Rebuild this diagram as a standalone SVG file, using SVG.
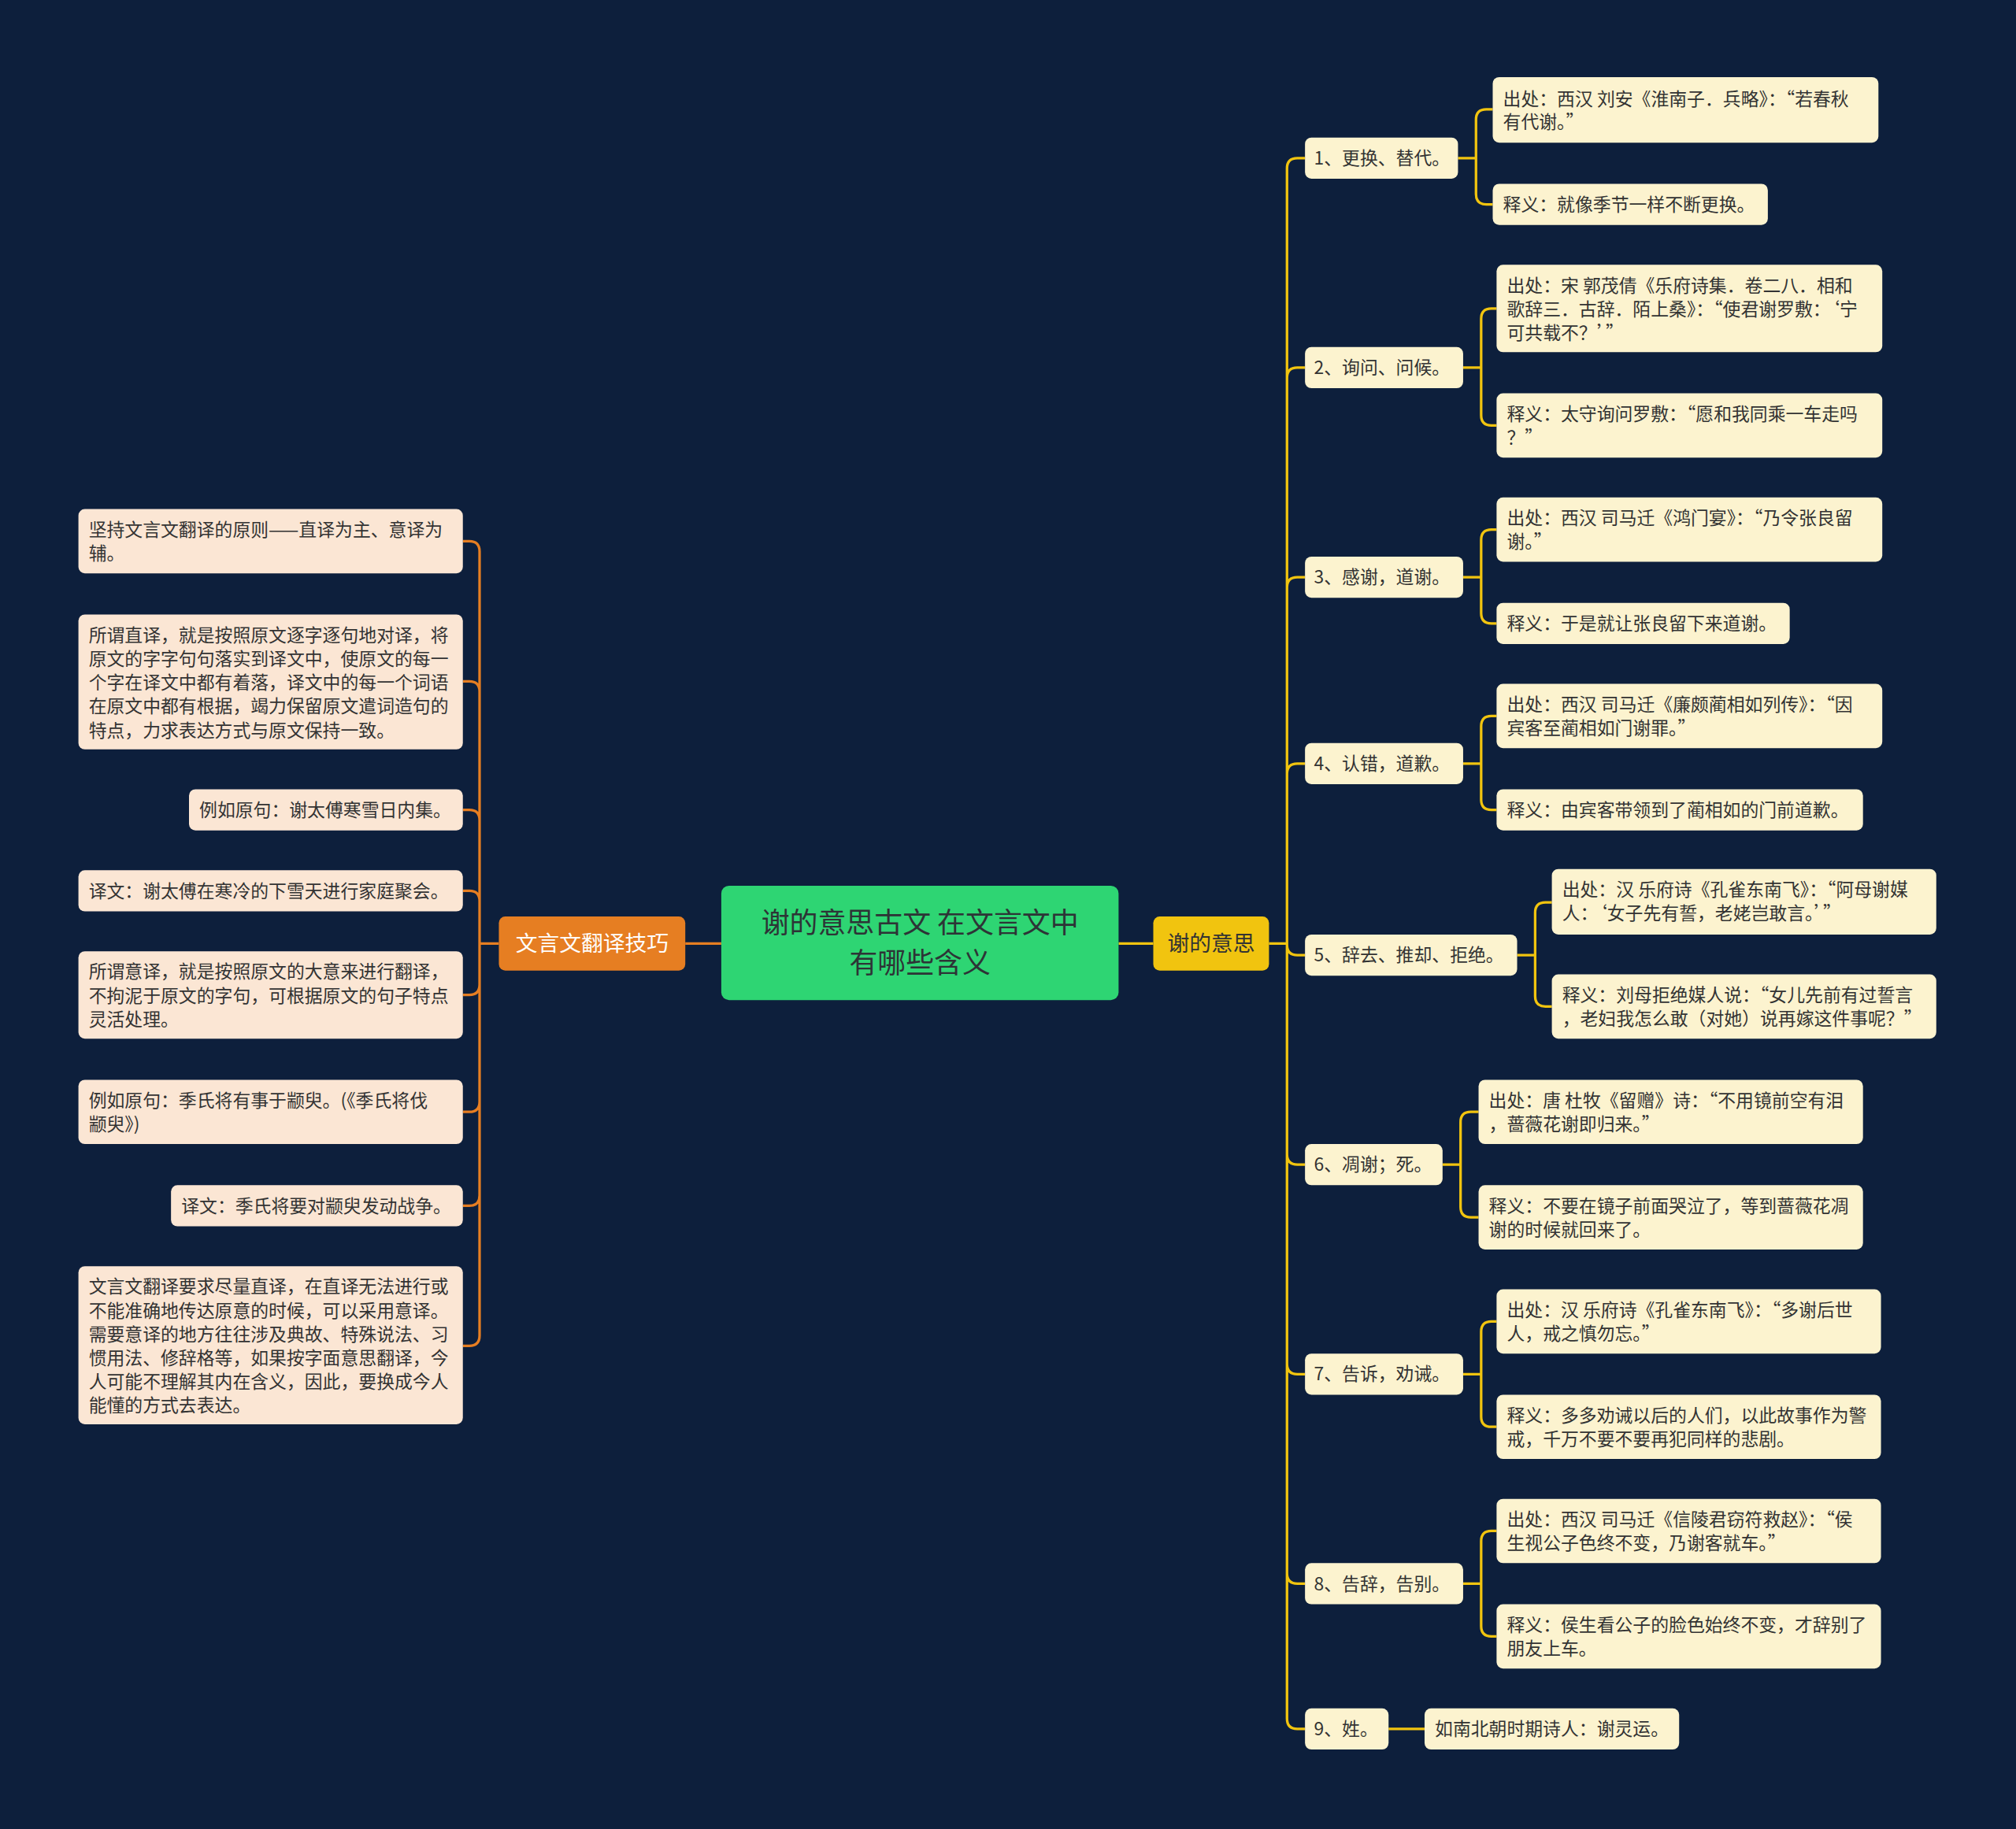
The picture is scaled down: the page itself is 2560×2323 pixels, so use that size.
<svg xmlns="http://www.w3.org/2000/svg" width="2560" height="2323" viewBox="0 0 2560 2323">
<style>
text{font-family:"Noto Sans CJK SC","Noto Sans",sans-serif;}
.y{fill:#fcf3cf}
.p{fill:#fbe6d4}
.t{font-size:14px;fill:#333}
.c{fill:none;stroke-width:2}
.cy{stroke:#f1c40f}
.co{stroke:#e67e22}
</style>
<rect width="2560" height="2323" fill="#0d1f3c"/>
<g transform="scale(1.63265)">
<g id="connectors">
<path class="c cy" d="M987 734H1001"/>
<path class="c cy" d="M1001 734V131Q1001 123 1009 123H1015M1001 734V294Q1001 286 1009 286H1015M1001 734V457Q1001 449 1009 449H1015M1001 734V602Q1001 594 1009 594H1015M1001 734V735Q1001 743 1009 743H1015M1001 734V898Q1001 906 1009 906H1015M1001 734V1061Q1001 1069 1009 1069H1015M1001 734V1224Q1001 1232 1009 1232H1015M1001 734V1337Q1001 1345 1009 1345H1015"/>
<path class="c cy" d="M1134 123H1148M1148 123V93Q1148 85 1156 85H1161M1148 123V151Q1148 159 1156 159H1161"/>
<path class="c cy" d="M1138 286H1152M1152 286V248Q1152 240 1160 240H1164M1152 286V323Q1152 331 1160 331H1164"/>
<path class="c cy" d="M1138 449H1152M1152 449V420Q1152 412 1160 412H1164M1152 449V477Q1152 485 1160 485H1164"/>
<path class="c cy" d="M1138 594H1152M1152 594V565Q1152 557 1160 557H1164M1152 594V622Q1152 630 1160 630H1164"/>
<path class="c cy" d="M1180 743H1194M1194 743V710Q1194 702 1202 702H1207M1194 743V775Q1194 783 1202 783H1207"/>
<path class="c cy" d="M1122 906H1136M1136 906V873Q1136 865 1144 865H1150M1136 906V939Q1136 947 1144 947H1150"/>
<path class="c cy" d="M1138 1069H1152M1152 1069V1036Q1152 1028 1160 1028H1164M1152 1069V1102Q1152 1110 1160 1110H1164"/>
<path class="c cy" d="M1138 1232H1152M1152 1232V1199Q1152 1191 1160 1191H1164M1152 1232V1265Q1152 1273 1160 1273H1164"/>
<path class="c cy" d="M1080 1345H1108"/>
<path class="c cy" d="M870 734H897"/>
<path class="c co" d="M533 734H561"/>
<path class="c co" d="M388 734H373M373 734V429Q373 421 365 421H360M373 734V538Q373 530 365 530H360M373 734V638Q373 630 365 630H360M373 734V701Q373 693 365 693H360M373 734V766Q373 774 365 774H360M373 734V857Q373 865 365 865H360M373 734V930Q373 938 365 938H360M373 734V1039Q373 1047 365 1047H360"/>
</g>
<g id="center"><rect x="561" y="689" width="309" height="89" rx="6" fill="#2ed573"/>
<text x="715.5" y="726" text-anchor="middle" font-size="22" fill="#2d3436">谢的意思古文 在文言文中</text>
<text x="715.5" y="757" text-anchor="middle" font-size="22" fill="#2d3436">有哪些含义</text></g>
<g id="left-main"><rect x="388" y="713" width="145" height="42" rx="5" fill="#e67e22"/>
<text x="460.5" y="740" text-anchor="middle" font-size="17" fill="#fff">文言文翻译技巧</text></g>
<g id="right-main"><rect x="897" y="713" width="90" height="42" rx="5" fill="#f1c40f"/>
<text x="942" y="740" text-anchor="middle" font-size="17" fill="#333">谢的意思</text></g>

<g id="n1"><rect class="y" x="1015" y="107" width="119" height="32" rx="5"/><text class="t" x="1022" y="128">1、更换、替代。</text></g>
<g id="n2"><rect class="y" x="1015" y="270" width="123" height="32" rx="5"/><text class="t" x="1022" y="291">2、询问、问候。</text></g>
<g id="n3"><rect class="y" x="1015" y="433" width="123" height="32" rx="5"/><text class="t" x="1022" y="454">3、感谢，道谢。</text></g>
<g id="n4"><rect class="y" x="1015" y="578" width="123" height="32" rx="5"/><text class="t" x="1022" y="599">4、认错，道歉。</text></g>
<g id="n5"><rect class="y" x="1015" y="727" width="165" height="32" rx="5"/><text class="t" x="1022" y="748">5、辞去、推却、拒绝。</text></g>
<g id="n6"><rect class="y" x="1015" y="890" width="107" height="32" rx="5"/><text class="t" x="1022" y="911">6、凋谢；死。</text></g>
<g id="n7"><rect class="y" x="1015" y="1053" width="123" height="32" rx="5"/><text class="t" x="1022" y="1074">7、告诉，劝诫。</text></g>
<g id="n8"><rect class="y" x="1015" y="1216" width="123" height="32" rx="5"/><text class="t" x="1022" y="1237">8、告辞，告别。</text></g>
<g id="n9"><rect class="y" x="1015" y="1329" width="65" height="32" rx="5"/><text class="t" x="1022" y="1350">9、姓。</text></g>

<g id="n1a"><rect class="y" x="1161" y="60" width="300" height="51" rx="5"/><text class="t" x="1169" y="82">出处：西汉 刘安《淮南子．兵略》：“若春秋</text><text class="t" x="1169" y="100">有代谢。”</text></g>
<g id="n1b"><rect class="y" x="1161" y="143" width="214" height="32" rx="5"/><text class="t" x="1169" y="164">释义：就像季节一样不断更换。</text></g>
<g id="n2a"><rect class="y" x="1164" y="206" width="300" height="68" rx="5"/><text class="t" x="1172" y="227">出处：宋 郭茂倩《乐府诗集．卷二八．相和</text><text class="t" x="1172" y="245.5">歌辞三．古辞．陌上桑》：“使君谢罗敷：‘宁</text><text class="t" x="1172" y="264">可共载不？’”</text></g>
<g id="n2b"><rect class="y" x="1164" y="306" width="300" height="50" rx="5"/><text class="t" x="1172" y="327">释义：太守询问罗敷：“愿和我同乘一车走吗</text><text class="t" x="1172" y="345.5">？”</text></g>
<g id="n3a"><rect class="y" x="1164" y="387" width="300" height="50" rx="5"/><text class="t" x="1172" y="408">出处：西汉 司马迁《鸿门宴》：“乃令张良留</text><text class="t" x="1172" y="426.5">谢。”</text></g>
<g id="n3b"><rect class="y" x="1164" y="469" width="228" height="32" rx="5"/><text class="t" x="1172" y="490">释义：于是就让张良留下来道谢。</text></g>
<g id="n4a"><rect class="y" x="1164" y="532" width="300" height="50" rx="5"/><text class="t" x="1172" y="553">出处：西汉 司马迁《廉颇蔺相如列传》：“因</text><text class="t" x="1172" y="571.5">宾客至蔺相如门谢罪。”</text></g>
<g id="n4b"><rect class="y" x="1164" y="614" width="285" height="32" rx="5"/><text class="t" x="1172" y="635">释义：由宾客带领到了蔺相如的门前道歉。</text></g>
<g id="n5a"><rect class="y" x="1207" y="676" width="299" height="51" rx="5"/><text class="t" x="1215" y="697">出处：汉 乐府诗《孔雀东南飞》：“阿母谢媒</text><text class="t" x="1215" y="715.5">人：‘女子先有誓，老姥岂敢言。’”</text></g>
<g id="n5b"><rect class="y" x="1207" y="758" width="299" height="50" rx="5"/><text class="t" x="1215" y="779">释义：刘母拒绝媒人说：“女儿先前有过誓言</text><text class="t" x="1215" y="797.5">，老妇我怎么敢（对她）说再嫁这件事呢？”</text></g>
<g id="n6a"><rect class="y" x="1150" y="840" width="299" height="50" rx="5"/><text class="t" x="1158" y="861">出处：唐 杜牧《留赠》诗：“不用镜前空有泪</text><text class="t" x="1158" y="879.5">，蔷薇花谢即归来。”</text></g>
<g id="n6b"><rect class="y" x="1150" y="922" width="299" height="50" rx="5"/><text class="t" x="1158" y="943">释义：不要在镜子前面哭泣了，等到蔷薇花凋</text><text class="t" x="1158" y="961.5">谢的时候就回来了。</text></g>
<g id="n7a"><rect class="y" x="1164" y="1003" width="299" height="50" rx="5"/><text class="t" x="1172" y="1024">出处：汉 乐府诗《孔雀东南飞》：“多谢后世</text><text class="t" x="1172" y="1042.5">人，戒之慎勿忘。”</text></g>
<g id="n7b"><rect class="y" x="1164" y="1085" width="299" height="50" rx="5"/><text class="t" x="1172" y="1106">释义：多多劝诫以后的人们，以此故事作为警</text><text class="t" x="1172" y="1124.5">戒，千万不要不要再犯同样的悲剧。</text></g>
<g id="n8a"><rect class="y" x="1164" y="1166" width="299" height="50" rx="5"/><text class="t" x="1172" y="1187">出处：西汉 司马迁《信陵君窃符救赵》：“侯</text><text class="t" x="1172" y="1205.5">生视公子色终不变，乃谢客就车。”</text></g>
<g id="n8b"><rect class="y" x="1164" y="1248" width="299" height="50" rx="5"/><text class="t" x="1172" y="1269">释义：侯生看公子的脸色始终不变，才辞别了</text><text class="t" x="1172" y="1287.5">朋友上车。</text></g>
<g id="n9a"><rect class="y" x="1108" y="1329" width="198" height="32" rx="5"/><text class="t" x="1116" y="1350">如南北朝时期诗人：谢灵运。</text></g>

<g id="l1"><rect class="p" x="61" y="396" width="299" height="50" rx="5"/><text class="t" x="69" y="417">坚持文言文翻译的原则——直译为主、意译为</text><text class="t" x="69" y="435.5">辅。</text></g>
<g id="l2"><rect class="p" x="61" y="478" width="299" height="105" rx="5"/><text class="t" x="69" y="499">所谓直译，就是按照原文逐字逐句地对译，将</text><text class="t" x="69" y="517.5">原文的字字句句落实到译文中，使原文的每一</text><text class="t" x="69" y="536">个字在译文中都有着落，译文中的每一个词语</text><text class="t" x="69" y="554.5">在原文中都有根据，竭力保留原文遣词造句的</text><text class="t" x="69" y="573">特点，力求表达方式与原文保持一致。</text></g>
<g id="l3"><rect class="p" x="147" y="614" width="213" height="32" rx="5"/><text class="t" x="155" y="635">例如原句：谢太傅寒雪日内集。</text></g>
<g id="l4"><rect class="p" x="61" y="677" width="299" height="32" rx="5"/><text class="t" x="69" y="698">译文：谢太傅在寒冷的下雪天进行家庭聚会。</text></g>
<g id="l5"><rect class="p" x="61" y="740" width="299" height="68" rx="5"/><text class="t" x="69" y="761">所谓意译，就是按照原文的大意来进行翻译，</text><text class="t" x="69" y="779.5">不拘泥于原文的字句，可根据原文的句子特点</text><text class="t" x="69" y="798">灵活处理。</text></g>
<g id="l6"><rect class="p" x="61" y="840" width="299" height="50" rx="5"/><text class="t" x="69" y="861">例如原句：季氏将有事于颛臾。(《季氏将伐</text><text class="t" x="69" y="879.5">颛臾》)</text></g>
<g id="l7"><rect class="p" x="133" y="922" width="227" height="32" rx="5"/><text class="t" x="141" y="943">译文：季氏将要对颛臾发动战争。</text></g>
<g id="l8"><rect class="p" x="61" y="985" width="299" height="123" rx="5"/><text class="t" x="69" y="1006">文言文翻译要求尽量直译，在直译无法进行或</text><text class="t" x="69" y="1024.5">不能准确地传达原意的时候，可以采用意译。</text><text class="t" x="69" y="1043">需要意译的地方往往涉及典故、特殊说法、习</text><text class="t" x="69" y="1061.5">惯用法、修辞格等，如果按字面意思翻译，今</text><text class="t" x="69" y="1080">人可能不理解其内在含义，因此，要换成今人</text><text class="t" x="69" y="1098.5">能懂的方式去表达。</text></g>
</g>
</svg>
